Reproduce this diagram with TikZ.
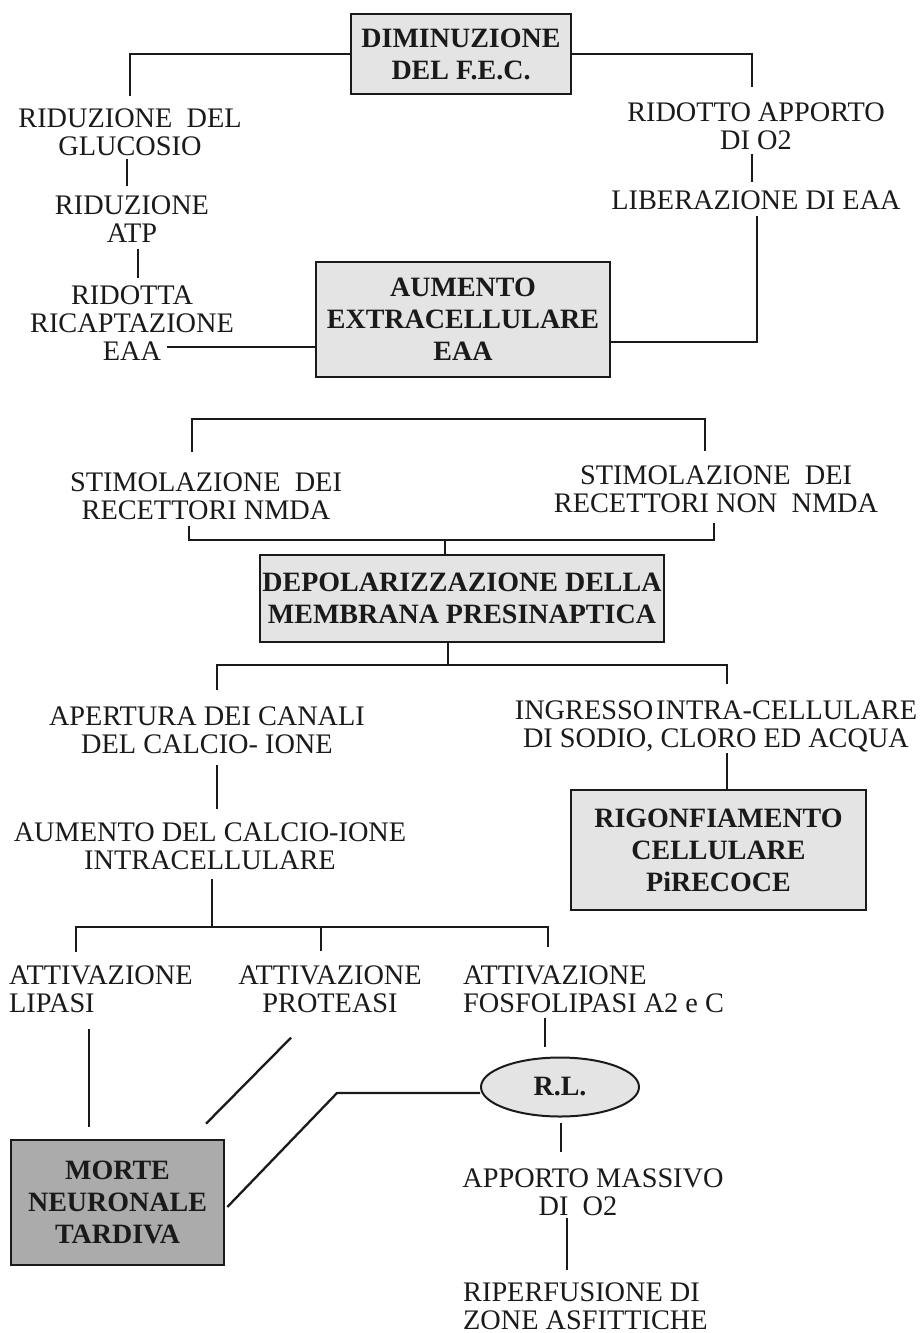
\documentclass[tikz,border=0pt]{standalone}
\usepackage{fontspec}
\setmainfont{Liberation Serif}
\usetikzlibrary{calc,shapes.geometric}
\definecolor{boxgray}{HTML}{E4E4E4}
\definecolor{deadgray}{HTML}{ABABAB}
\definecolor{ink}{HTML}{1A1A1A}
\begin{document}
\begin{tikzpicture}[x=1pt,y=-1pt,
  txt/.style={inner sep=0pt, align=center, font=\fontsize{28.3}{28}\selectfont, text=ink},
  txtl/.style={txt, align=left},
  boxnode/.style={draw=ink, line width=2.6pt, fill=boxgray, inner sep=0pt, align=center,
    font=\fontsize{28}{32}\selectfont\bfseries, text=ink},
  conn/.style={draw=ink, line width=2.3pt},
]
\path[use as bounding box] (0,0) rectangle (919,1333);
\fill[white] (0,0) rectangle (919,1333);

% ---------- top part ----------
\node[boxnode, minimum width=220pt, minimum height=80pt] (fec) at (461,54) {DIMINUZIONE\\DEL F.E.C.};
\node[txt] (glu) at (130,132) {RIDUZIONE\ \ DEL\\GLUCOSIO};
\node[txt] (atp) at (132,219) {RIDUZIONE\\ATP};
\node[txt] (ric) at (132,323) {RIDOTTA\\RICAPTAZIONE\\EAA};
\node[boxnode, minimum width=294pt, minimum height=115pt] (aum) at (463,319.5) {AUMENTO\\EXTRACELLULARE\\EAA};
\node[txt] (o2) at (756,126) {RIDOTTO APPORTO\\DI O2};
\node[txt] (lib) at (756,200) {LIBERAZIONE DI EAA};

% ---------- middle part ----------
\node[txt] (nmda) at (206,496) {STIMOLAZIONE\ \ DEI\\RECETTORI NMDA};
\node[txt] (nonnmda) at (716,489) {STIMOLAZIONE\ \ DEI\\RECETTORI NON\ \ NMDA};
\node[boxnode, minimum width=404pt, minimum height=87pt] (depol) at (462,598.5) {DEPOLARIZZAZIONE DELLA\\MEMBRANA PRESINAPTICA};
\node[txt] (ape) at (207,730) {APERTURA DEI CANALI\\DEL CALCIO- IONE};
\node[txt] (ing) at (716,726) {INGRESSO\hspace{3pt}INTRA-CELLULARE\\DI SODIO, CLORO ED ACQUA};
\node[boxnode, minimum width=295pt, minimum height=120pt] (rig) at (718.5,850) {RIGONFIAMENTO\\CELLULARE\\PiRECOCE};
\node[txt] (aca) at (210,846) {AUMENTO DEL CALCIO-IONE\\INTRACELLULARE};

% ---------- bottom part ----------
\node[txtl, anchor=west] (lip) at (9,989) {ATTIVAZIONE\\LIPASI};
\node[txt] (pro) at (330,989) {ATTIVAZIONE\\PROTEASI};
\node[txtl, anchor=west] (fos) at (463,989) {ATTIVAZIONE\\FOSFOLIPASI A2 e C};
\node[ellipse, draw=ink, line width=2pt, fill=boxgray, inner sep=0pt, minimum width=158pt, minimum height=59pt,
  font=\fontsize{28}{28}\selectfont\bfseries, text=ink] (rl) at (560,1087) {R.L.};
\node[boxnode, fill=deadgray, minimum width=213pt, minimum height=125pt] (morte) at (117.5,1202.5) {MORTE\\NEURONALE\\TARDIVA};
\node[txt] (mass) at (593,1192) {APPORTO MASSIVO\\DI\ \ O2\hspace*{30pt}};
\node[txtl, anchor=west] (rip) at (463,1306) {RIPERFUSIONE DI\\ZONE ASFITTICHE};

% ---------- connectors ----------
\draw[conn] (fec.west) -| ($(glu.north)+(0,-12)$);
\draw[conn] (fec.east) -| ($(o2.north)+(-4,-15)$);
\draw[conn] ($(glu.south)+(-3,3)$) -- ($(atp.north)+(-5,-9)$);
\draw[conn] ($(atp.south)+(6,6)$) -- ($(ric.north)+(6,-7)$);
\coordinate (eaaend) at (167,347);
\draw[conn] (eaaend) -- (eaaend -| aum.west);
\draw[conn] ($(aum.east)+(0,22.5)$) -| ($(lib.south)+(1,6)$);
\draw[conn] ($(o2.south)+(-4,4)$) -- ($(lib.north)+(-4,-8)$);

\coordinate (bar1) at (450,419);
\draw[conn] ($(nmda.north)+(-14,-20)$) |- (bar1) -| ($(nonnmda.north)+(-11,-14)$);
\coordinate (bar2) at (445,540);
\draw[conn] ($(nmda.south)+(-17,6)$) |- (bar2) -| ($(nonnmda.south)+(-2,10)$);
\draw[conn] (bar2) -- (bar2 |- depol.north);

\coordinate (bar3) at (448,665);
\draw[conn] (bar3 |- depol.south) -- (bar3);
\draw[conn] ($(ape.north)+(10,-16)$) |- (bar3) -| ($(ing.north)+(11,-16)$);
\draw[conn] ($(ing.south)+(11,1)$) -- ($(rig.north)+(8.5,0)$);
\draw[conn] ($(ape.south)+(10,11)$) -- ($(aca.north)+(7,-13)$);

\coordinate (bar4) at (212,927);
\draw[conn] ($(aca.south)+(2,9)$) -- (bar4);
\draw[conn] ($(lip.north west)+(67,-13)$) |- (bar4) -| ($(fos.north west)+(85,-18)$);
\coordinate (proleg) at ($(pro.north)+(-9,-14)$);
\draw[conn] (proleg) -- (proleg |- bar4);

\draw[conn] ($(fos.south west)+(82,5)$) -- ($(rl.north)+(-15,-9.5)$);
\draw[conn] ($(rl.south)+(1,5.5)$) -- ($(mass.north)+(-32,-16)$);
\draw[conn] ($(mass.south)+(-26,2)$) -- ($(rip.north west)+(104,-12)$);
\draw[conn] ($(lip.south west)+(80,16)$) -- ($(morte.north)+(-28.5,-12)$);
\draw[conn] ($(pro.south)+(-39,25)$) -- ($(morte.north)+(88.5,-15)$);
\coordinate (rlbend) at (337,1093);
\draw[conn] ($(rl.west)+(0,6)$) -- (rlbend) -- ($(morte.east)+(2,4.5)$);
\end{tikzpicture}
\end{document}
